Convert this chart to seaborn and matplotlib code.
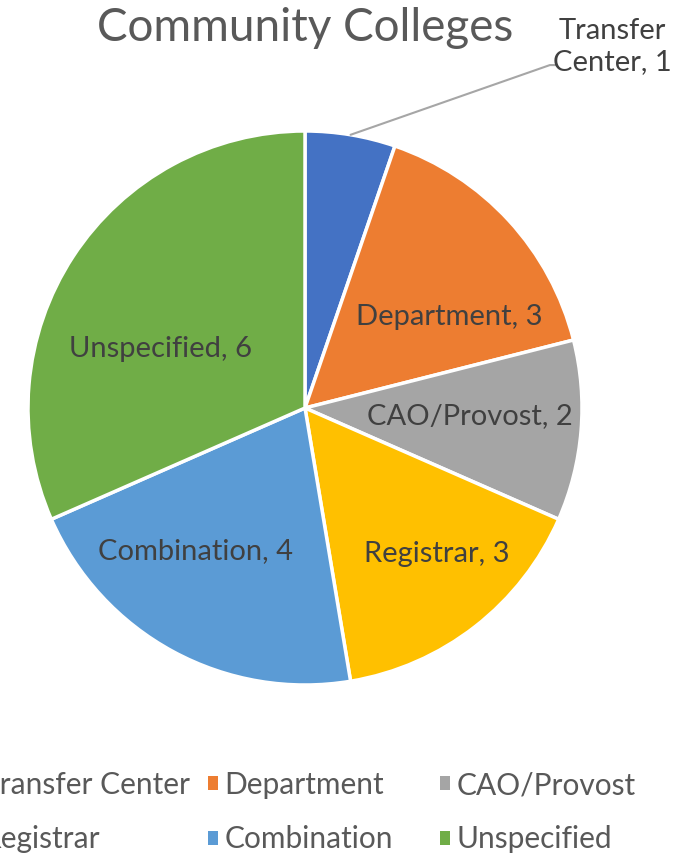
import matplotlib
matplotlib.use("Agg")
import matplotlib.pyplot as plt
import seaborn as sns
import numpy as np
from matplotlib.patches import Patch

categories = ["Transfer Center", "Department", "CAO/Provost", "Registrar", "Combination", "Unspecified"]
values = [1, 3, 2, 3, 4, 6]
colors = ["#4472C4", "#ED7D31", "#A5A5A5", "#FFC000", "#5B9BD5", "#70AD47"]
title = "Community Colleges"

sns.set_theme(style="white")
plt.rcParams['font.family'] = ['Lato', 'DejaVu Sans']

W, H = 690, 857
fig = plt.figure(figsize=(W / 100, H / 100), dpi=100)
cx, cy, R = 305, 408, 277
ax = fig.add_axes([(cx - R) / W, (H - cy - R) / H, 2 * R / W, 2 * R / H])

wedges, _ = ax.pie(values, colors=colors, startangle=90, counterclock=False, radius=1,
                   wedgeprops=dict(edgecolor="white", linewidth=2.5))
ax.set_xlim(-1, 1)
ax.set_ylim(-1, 1)
ax.set_aspect("equal")
ax.axis("off")

# inside labels (positions in axes data units)
label_pos = {
    "Department": (0.52, 0.33),
    "CAO/Provost": (0.596, -0.03),
    "Registrar": (0.477, -0.527),
    "Combination": (-0.394, -0.516),
    "Unspecified": (-0.523, 0.213),
}
for cat, v in zip(categories, values):
    if cat in label_pos:
        x, y = label_pos[cat]
        ax.text(x, y, f"{cat}, {v}", ha="center", va="center", fontsize=21, color="#404040")

# outside label for Transfer Center with leader line
w0 = wedges[0]
mid = np.deg2rad((w0.theta1 + w0.theta2) / 2)
sx, sy = np.cos(mid), np.sin(mid)
ex, ey = 0.884, 1.238
ax.plot([sx, ex, ex + 0.025], [sy, ey, ey], color="#A6A6A6", lw=1.5, clip_on=False)
ax.text(1.111, 1.305, f"Transfer\nCenter, {values[0]}",
        ha="center", va="center", fontsize=21, color="#404040", linespacing=1.27, clip_on=False)

fig.text(cx / W, 1 - 28 / H, title, ha="center", va="center", fontsize=33, color="#595959")

# legend: three columns, each its own legend
cols = [(0, 3), (1, 4), (2, 5)]
col_x = [-34, 208, 440]
for (i, j), x in zip(cols, col_x):
    handles = [Patch(facecolor=colors[k], edgecolor="none") for k in (i, j)]
    fig.legend(handles, [categories[i], categories[j]], loc="upper left",
               bbox_to_anchor=(x / W, 1 - 771 / H), frameon=False, fontsize=21.5,
               handlelength=0.35, handleheight=0.35, handletextpad=0.2,
               labelspacing=0.88, borderpad=0, borderaxespad=0, labelcolor="#595959")

fig.savefig("out.png", dpi=100)
